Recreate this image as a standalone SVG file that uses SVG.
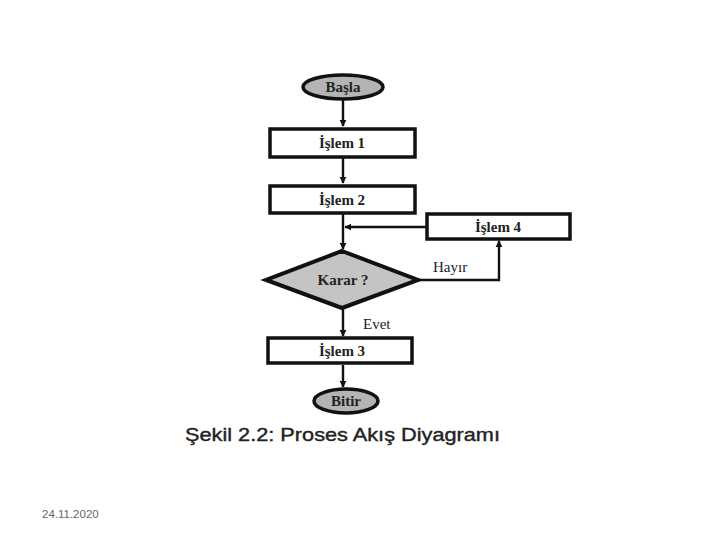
<svg xmlns="http://www.w3.org/2000/svg" width="720" height="540" viewBox="0 0 720 540">
<style>
.box{fill:#fff;stroke:#111;stroke-width:3.5}
.term{fill:#b4b4b4;stroke:#111;stroke-width:3.5}
.dec{fill:#c4c4c4;stroke:#111;stroke-width:4}
.t{font-family:"Liberation Serif",serif;font-weight:bold;font-size:15px;fill:#222;text-anchor:middle}
.l{font-family:"Liberation Serif",serif;font-size:15px;fill:#222}
.ln{fill:none;stroke:#111;stroke-width:2.4}
</style>
<defs>
<marker id="ah" viewBox="0 0 10 10" refX="9" refY="5" markerWidth="7" markerHeight="8" orient="auto" markerUnits="userSpaceOnUse">
<path d="M0,0 L10,5 L0,10 z" fill="#111"/>
</marker>
</defs>
<rect width="720" height="540" fill="#fff"/>
<g id="connectors">
<line class="ln" x1="343" y1="99" x2="343" y2="126" marker-end="url(#ah)"/>
<line class="ln" x1="343" y1="158" x2="343" y2="183" marker-end="url(#ah)"/>
<line class="ln" x1="343" y1="214" x2="343" y2="249" marker-end="url(#ah)"/>
<line class="ln" x1="426" y1="227" x2="345" y2="227" marker-end="url(#ah)"/>
<polyline class="ln" points="418,280 499,280 499,241" marker-end="url(#ah)"/>
<line class="ln" x1="343" y1="309" x2="343" y2="336" marker-end="url(#ah)"/>
<line class="ln" x1="343" y1="365" x2="343" y2="387" marker-end="url(#ah)"/>
<text class="l" x="433" y="272">Hayır</text>
<text class="l" x="363" y="329">Evet</text>
</g>
<g id="basla">
<ellipse class="term" cx="343" cy="87" rx="40" ry="12"/>
<text class="t" x="343" y="92">Başla</text>
</g>
<g id="islem1">
<rect class="box" x="270" y="129" width="145" height="28"/>
<text class="t" x="342" y="148">İşlem 1</text>
</g>
<g id="islem2">
<rect class="box" x="270" y="186" width="145" height="27"/>
<text class="t" x="342" y="205">İşlem 2</text>
</g>
<g id="islem4">
<rect class="box" x="427" y="214" width="143" height="25"/>
<text class="t" x="498" y="232">İşlem 4</text>
</g>
<g id="karar">
<polygon class="dec" points="342,251 418,280 342,308 266,280"/>
<text class="t" x="343" y="285">Karar ?</text>
</g>
<g id="islem3">
<rect class="box" x="268" y="338" width="144" height="25"/>
<text class="t" x="342" y="356">İşlem 3</text>
</g>
<g id="bitir">
<ellipse class="term" cx="346" cy="401" rx="32" ry="12"/>
<text class="t" x="346" y="406">Bitir</text>
</g>
<text x="185" y="441" font-family="'Liberation Sans',Arial,sans-serif" font-size="19" fill="#222" stroke="#222" stroke-width="0.4" textLength="315" lengthAdjust="spacingAndGlyphs">Şekil 2.2: Proses Akış Diyagramı</text>
<text x="42" y="518" font-family="'Liberation Sans',Arial,sans-serif" font-size="11.5" fill="#666">24.11.2020</text>
</svg>
